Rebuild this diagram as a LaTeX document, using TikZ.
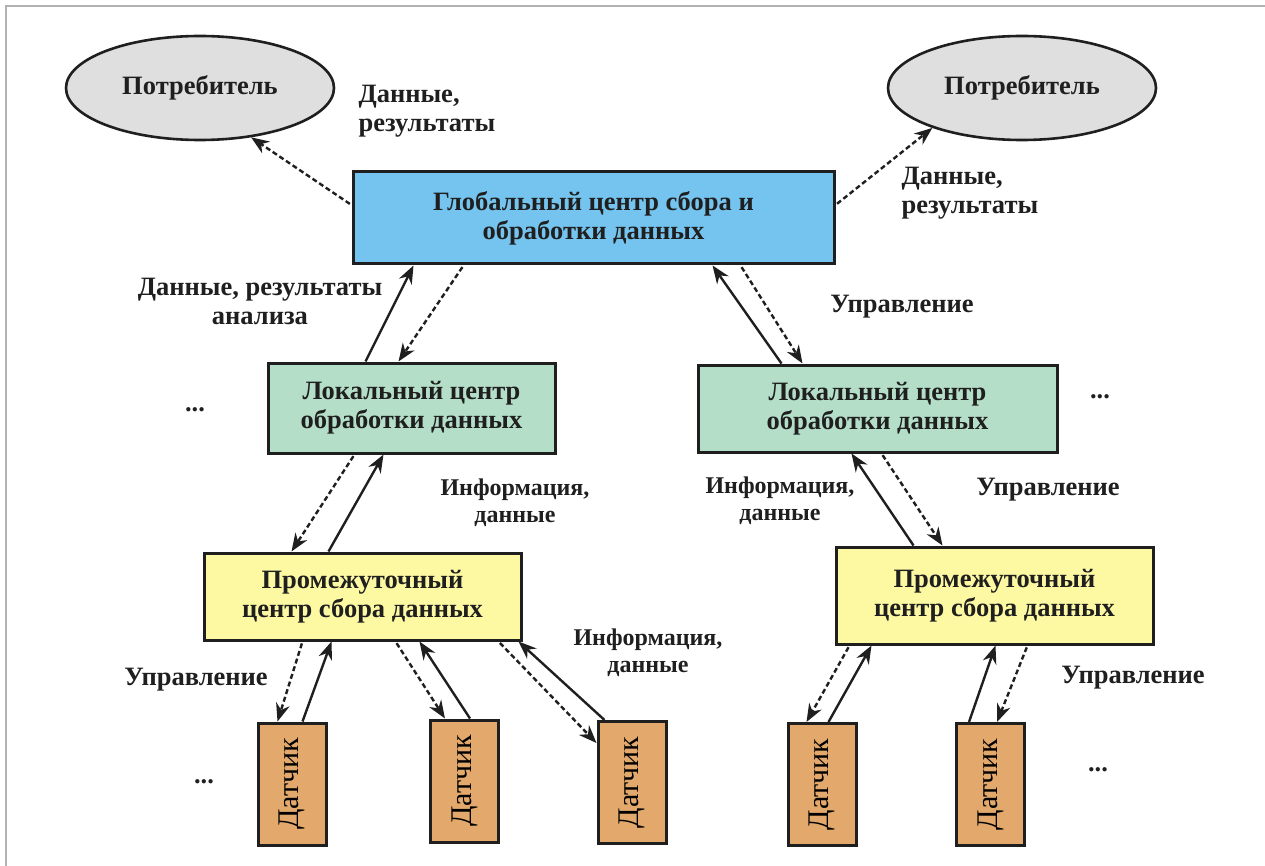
\documentclass[tikz,border=0pt]{standalone}
\usepackage{fontspec}
\setmainfont{Liberation Serif}
\usepackage{tikz}
\usetikzlibrary{arrows.meta, shapes.geometric}
\usepackage{xcolor}

\definecolor{globc}{HTML}{74C4EF}
\definecolor{locc}{HTML}{B4DEC8}
\definecolor{midc}{HTML}{FDF9A3}
\definecolor{sensc}{HTML}{E3A96C}
\definecolor{consc}{HTML}{DFDFDF}

\tikzset{
  txt/.style = {font=\bfseries\fontsize{26.5}{29}\selectfont, text=black!88, align=center},
  info/.style = {txt, font=\bfseries\fontsize{24}{27}\selectfont},
  box/.style = {txt, draw=black!88, line width=3pt, inner sep=0pt},
  cons/.style = {txt, ellipse, draw=black!88, fill=consc, line width=2.6pt, minimum width=268, minimum height=104, inner sep=0pt},
  sens/.style = {draw=black!88, fill=sensc, line width=3pt, minimum width=68, minimum height=122, inner sep=0pt},
  data/.style = {line width=2.4pt, black!88, -{Stealth[length=18pt, width=14pt]}},
  ctrl/.style = {data, dash pattern=on 5pt off 3pt, shorten <=2pt}
}

\begin{document}
\begin{tikzpicture}[x=1pt, y=-1pt]
\useasboundingbox (0,0) rectangle (1265,866);
\draw[black!30, line width=1.2pt] (6,866) -- (6,6) -- (1265,6);

\node[cons] (cons_l) at (200,88){Потребитель};
\node[cons] (cons_r) at (1022,88){Потребитель};

\node[box, fill=globc, minimum width=481, minimum height=92] (glob) at (593.5,218){Глобальный центр сбора и\\обработки данных};

\node[box, fill=locc, minimum width=287, minimum height=90] (loc_l) at (411.5,408){Локальный центр\\обработки данных};
\node[box, fill=locc, minimum width=359, minimum height=87] (loc_r) at (877.5,408.5){Локальный центр\\обработки данных};

\node[box, fill=midc, minimum width=317, minimum height=87] (mid_l) at (362.5,596.5){Промежуточный\\центр сбора данных};
\node[box, fill=midc, minimum width=317, minimum height=97] (mid_r) at (994.5,595.5){Промежуточный\\центр сбора данных};

\node[sens] (sens_1) at (292,784){\rotatebox{90}{\fontsize{30}{30}\selectfont Датчик}};
\node[sens] (sens_2) at (464.5,781){\rotatebox{90}{\fontsize{30}{30}\selectfont Датчик}};
\node[sens] (sens_3) at (632,782.5){\rotatebox{90}{\fontsize{30}{30}\selectfont Датчик}};
\node[sens] (sens_4) at (822,784.5){\rotatebox{90}{\fontsize{30}{30}\selectfont Датчик}};
\node[sens] (sens_5) at (990.5,784.5){\rotatebox{90}{\fontsize{30}{30}\selectfont Датчик}};

\node[txt, anchor=west, align=left] (res_l) at (355,111){Данные,\\результаты};
\node[txt, anchor=west, align=left] (res_r) at (898,193){Данные,\\результаты};
\node[txt] (res_an) at (260,301){Данные, результаты\\анализа};
\node[txt] (ctrl_top) at (902,307){Управление};
\node[info] (info_l) at (515,503){Информация,\\данные};
\node[info] (info_r) at (780,501){Информация,\\данные};
\node[txt] (ctrl_r) at (1048,490){Управление};
\node[txt] (ctrl_bl) at (196,680){Управление};
\node[info] (info_b) at (648,653){Информация,\\данные};
\node[txt] (ctrl_br) at (1133,678){Управление};

\node[txt] (dots_1) at (195,410){...};
\node[txt] (dots_2) at (1100,397){...};
\node[txt] (dots_3) at (204,782){...};
\node[txt] (dots_4) at (1098,770){...};

\draw[ctrl] ([yshift=13]glob.west) -- (cons_l.-44);
\draw[ctrl] ([yshift=13]glob.east) -- (cons_r.204);

\draw[data] ([xshift=99]loc_l.north west) -- ([xshift=62]glob.south west);
\draw[ctrl] ([xshift=112]glob.south west) -- ([xshift=132]loc_l.north west);
\draw[data] ([xshift=85]loc_r.north west) -- ([xshift=361]glob.south west);
\draw[ctrl] ([xshift=389]glob.south west) -- ([xshift=106]loc_r.north west);

\draw[ctrl] ([xshift=88]loc_l.south west) -- ([xshift=89]mid_l.north west);
\draw[data] ([xshift=126]mid_l.north west) -- ([xshift=117]loc_l.south west);
\draw[data] ([xshift=79]mid_r.north west) -- ([xshift=155]loc_r.south west);
\draw[ctrl] ([xshift=185]loc_r.south west) -- ([xshift=108]mid_r.north west);

\draw[ctrl] ([xshift=100]mid_l.south west) -- ([xshift=21]sens_1.north west);
\draw[data] ([xshift=46]sens_1.north west) -- ([xshift=129]mid_l.south west);
\draw[ctrl] ([xshift=193]mid_l.south west) -- ([xshift=16]sens_2.north west);
\draw[data] ([xshift=41]sens_2.north west) -- ([xshift=217]mid_l.south west);
\draw[ctrl] ([xshift=296]mid_l.south west) -- ([yshift=-23]sens_3.north west);
\draw[data] ([xshift=8]sens_3.north west) -- ([xshift=316]mid_l.south west);

\draw[ctrl] ([xshift=15]mid_r.south west) -- ([xshift=20]sens_4.north west);
\draw[data] ([xshift=42]sens_4.north west) -- ([xshift=37]mid_r.south west);
\draw[data] ([xshift=14]sens_5.north west) -- ([xshift=161]mid_r.south west);
\draw[ctrl] ([xshift=193]mid_r.south west) -- ([xshift=42]sens_5.north west);
\end{tikzpicture}
\end{document}
